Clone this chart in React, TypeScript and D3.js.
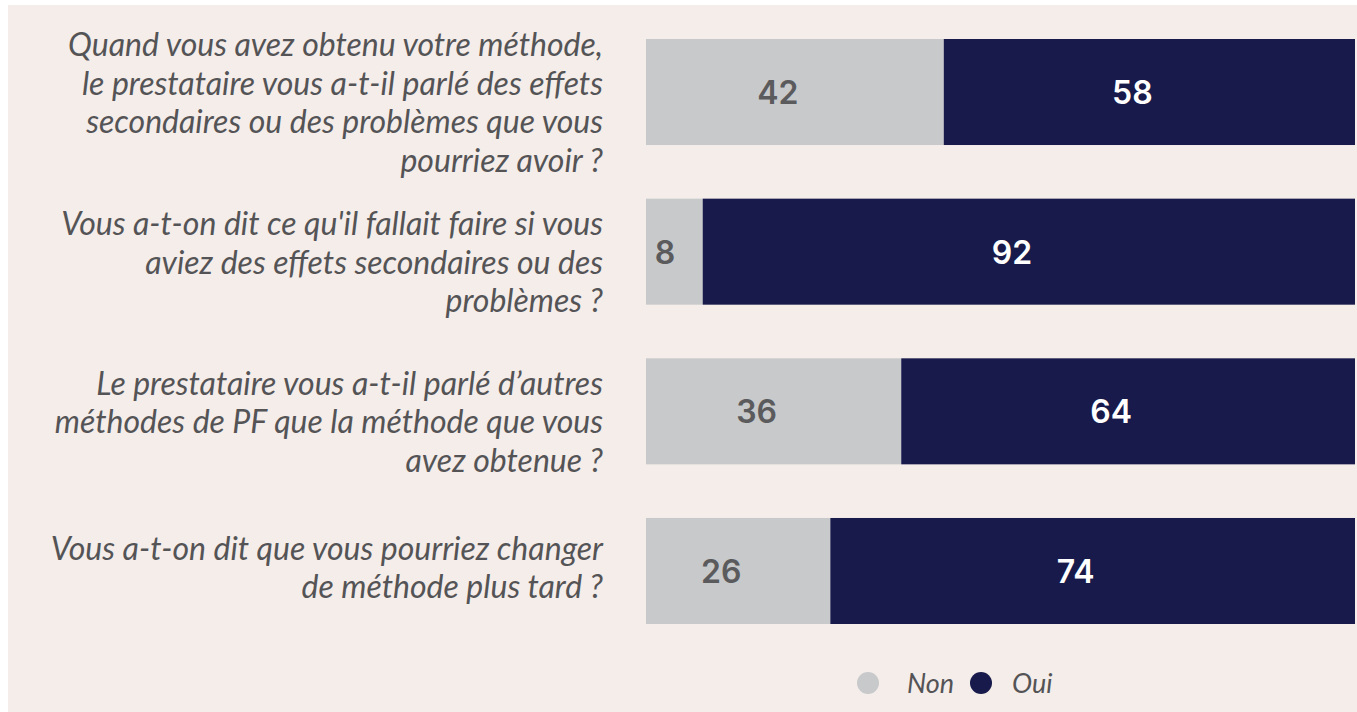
import React from 'react';
import * as d3 from 'd3';

const questions = [
  ['Quand vous avez obtenu votre méthode,', 'le prestataire vous a-t-il parlé des effets', 'secondaires ou des problèmes que vous', 'pourriez avoir ?'],
  ['Vous a-t-on dit ce qu\'il fallait faire si vous', 'aviez des effets secondaires ou des', 'problèmes ?'],
  ['Le prestataire vous a-t-il parlé d\u2019autres', 'méthodes de PF que la méthode que vous', 'avez obtenue ?'],
  ['Vous a-t-on dit que vous pourriez changer', 'de méthode plus tard ?'],
];
const non = [42, 8, 36, 26];
const oui = [58, 92, 64, 74];
const seriesNames = ['Non', 'Oui'];
const seriesColors = ['#c8c9cb', '#171a4a'];
const labelColors = ['#5b5b5d', '#ffffff'];

const W = 1357;
const H = 712;

const App = () => {
  const keys = questions.map((_, i) => `q${i}`);
  const x = d3.scaleLinear().domain([0, 100]).range([646, 1355]);
  const y = d3.scaleBand().domain(keys).range([39, 624]).paddingInner(0.336).paddingOuter(0);

  const rows = keys.map((k, i) => ({ key: k, lines: questions[i], values: [non[i], oui[i]] }));
  const stack = d3.stack<any>().keys(['0', '1'])(rows.map((r) => ({ '0': r.values[0], '1': r.values[1] })));

  const textFont = 'Lato, "Open Sans", sans-serif';
  const lineH = 38.5;

  // legend placement
  const legendCircles = [868, 981];
  const legendTexts = [907, 1012];

  return (
    <svg width={W} height={H} style={{ position: 'absolute', left: 0, top: 0 }}>
      <rect x={0} y={0} width={W} height={H} fill="#ffffff" />
      <rect x={8} y={5} width={W - 8} height={H - 5} fill="#f5edea" />

      {stack.map((s, si) => (
        <g key={si}>
          {s.map((d, i) => {
            const x0 = x(d[0]);
            const x1 = x(d[1]);
            const yy = y(keys[i])!;
            const cx = Math.max((x0 + x1) / 2 - 17, x0 + 19);
            return (
              <g key={i}>
                <rect x={x0} y={yy} width={x1 - x0} height={y.bandwidth()} fill={seriesColors[si]} />
                <text
                  x={cx}
                  y={yy + y.bandwidth() / 2 + 12}
                  textAnchor="middle"
                  fontFamily='Inter, "Open Sans", sans-serif'
                  fontWeight={600}
                  fontSize={32}
                  fill={labelColors[si]}
                >
                  {rows[i].values[si]}
                </text>
              </g>
            );
          })}
        </g>
      ))}

      {rows.map((r) => {
        const mid = y(r.key)! + y.bandwidth() / 2;
        const n = r.lines.length;
        const shift = n > 2 ? 22 : 8;
        const first = mid - ((n - 1) / 2) * lineH + shift;
        return (
          <text
            key={r.key}
            textAnchor="end"
            fontFamily={textFont}
            fontStyle="italic"
            fontSize={32}
            fill="#545456"
          >
            {r.lines.map((l, j) => (
              <tspan key={j} x={603} y={first + j * lineH}>{l}</tspan>
            ))}
          </text>
        );
      })}

      <g fontFamily={textFont} fontStyle="italic" fontSize={27} fill="#545456">
        {seriesNames.map((name, i) => (
          <g key={name}>
            <circle cx={legendCircles[i]} cy={683} r={11} fill={seriesColors[i]} />
            <text x={legendTexts[i]} y={693}>{name}</text>
          </g>
        ))}
      </g>
    </svg>
  );
};

export default App;
